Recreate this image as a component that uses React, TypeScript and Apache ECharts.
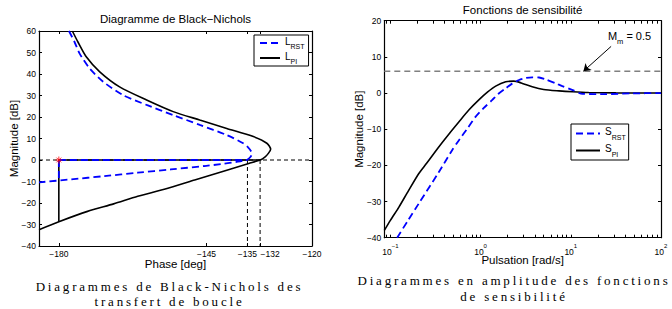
import React, { useEffect, useRef } from 'react';
import * as echarts from 'echarts';

const SANS = '"Liberation Sans", Arial, Helvetica, sans-serif';
const SERIF = '"Liberation Serif", serif';

// ---------- Left chart: Black-Nichols ----------
const phaseMin = -184.7;
const phaseMax = -120;
const nicholsGainMin = -40;
const nicholsGainMax = 60;
const phaseTickValues = [-180, -145, -135.3, -132.3, -120];

const lRstPhase = [-177.6, -176.3, -175.1, -172.7, -169.5, -164.8, -159.2, -152.9, -146.6, -140.2, -136.3, -135.1, -134.4, -134.3, -134.6, -135.3, -137.6, -141.5, -145.5, -153.5, -161.3, -169.2, -177.1, -184.7];
const lRstGain = [60, 55, 49.6, 42.6, 36.4, 30.2, 25.6, 20.9, 16.3, 11.6, 7.8, 5.8, 3.9, 2.6, 1.4, 0.2, -0.8, -1.9, -2.8, -4.4, -5.9, -7.5, -9.0, -10.4];

const lPiPhase = [-176.8, -175.5, -173.5, -170.3, -165.6, -159.2, -152.9, -146.6, -140.2, -133.9, -130.7, -129.8, -130.3, -131.1, -132.3, -135, -140, -147.8, -155, -161.3, -167, -173.2, -180, -184.7];
const lPiGain = [60, 55, 48, 41, 34, 27.9, 22.5, 18.6, 14.7, 10.9, 7.8, 5, 3.2, 1.5, 0, -1.6, -4.6, -9.3, -13.6, -16.9, -20.4, -23.9, -28.7, -32.4];

const criticalPhase = -180;
const pmRstPhase = -135.3;
const pmPiPhase = -132.3;
const gmRstGain = -9.6;
const gmPiGain = -28.7;

// ---------- Right chart: sensitivity functions ----------
const wMin = 0.0857;
const wMax = 100;
const sensMin = -40;
const sensMax = 20;
const wLabelTicks = [0.1, 1, 10, 100];
const wTickValues = [0.09, 0.1, 0.2, 0.3, 0.4, 0.5, 0.6, 0.7, 0.8, 0.9, 1, 2, 3, 4, 5, 6, 7, 8, 9, 10, 20, 30, 40, 50, 60, 70, 80, 90, 100];

const wPi = [0.0857, 0.1, 0.124, 0.158, 0.206, 0.251, 0.344, 0.447, 0.574, 0.741, 0.957, 1.2, 1.47, 1.9, 2.34, 2.82, 3.74, 5.0, 7.4, 10.5, 15.8, 31.6, 100];
const sPi = [-38.0, -35.2, -31.6, -27.1, -22.3, -19.5, -14.9, -11.3, -8.0, -4.7, -1.9, 0.3, 1.9, 3.1, 3.3, 2.8, 1.75, 1.0, 0.6, 0.35, 0.15, 0.05, 0];

const wRst = [0.119, 0.158, 0.206, 0.344, 0.484, 0.574, 0.724, 0.879, 1.08, 1.35, 1.58, 1.9, 2.24, 2.67, 3.16, 3.74, 4.45, 5.25, 6.8, 8.07, 10.5, 13.5, 24.5, 47.9, 100];
const sRst = [-40, -35.1, -30.6, -21.9, -15.8, -13.1, -9.6, -6.6, -4.2, -1.9, -0.2, 1.3, 2.6, 3.6, 4.15, 4.35, 4.3, 3.8, 2.7, 1.9, 0.8, -0.25, -0.28, -0.1, 0];

const mmValue = 0.5;
const mmDb = 20 * Math.log10(1 / mmValue);
const arrowStart = [28, 12.9];
const arrowEndW = 13.8;
const mmLabelAt = [25.8, 15.1];

const captionLeft = ['Diagrammes de Black-Nichols des', 'transfert de boucle'];
const captionRight = ['Diagrammes en amplitude des fonctions', 'de sensibilité'];

const zip = (xs: number[], ys: number[]) => xs.map((x, i) => [x, ys[i]]);
const fmtNum = (v: number) => String(Math.round(v)).replace('-', '\u2212');

const axisLineStyle = { color: '#000', width: 1.2 };
const tickBase = { show: true, inside: true, length: 3, lineStyle: { color: '#000', width: 1 } };
const labelBase = { color: '#000', fontFamily: SANS, fontSize: 8.5 };
const nameStyle = { color: '#000', fontFamily: SANS, fontSize: 11.5 };
const dashedRef = { color: '#000', width: 1, type: [4, 3] as number[] };
const blueDash = { color: '#0000ff', width: 1.8, type: [7, 4] as number[] };
const blackSolid = { color: '#000', width: 1.6 };

const legendRich = {
  m: { fontSize: 10, fontFamily: SANS, color: '#000', lineHeight: 14, verticalAlign: 'top' },
  s: { fontSize: 7, fontFamily: SANS, color: '#000', lineHeight: 7, verticalAlign: 'bottom' },
};
const subFormatter = (name: string) => {
  const [a, b] = name.split('_');
  return `{m|${a}}{s|${b}}`;
};

export default function App() {
  const ref = useRef<HTMLDivElement>(null);
  useEffect(() => {
    if (!ref.current) return;
    const chart = echarts.init(ref.current, null, { renderer: 'svg' });
    const lineSeries = (extra: any) => ({ type: 'line', symbol: 'none', silent: true, animation: false, ...extra });
    const captionText = (t: string, x: number, y: number) => ({
      type: 'text', x, y, silent: true,
      style: { text: t, fontFamily: SERIF, fontSize: 13, fill: '#000', align: 'center', verticalAlign: 'middle' },
    });
    chart.setOption({
      animation: false,
      backgroundColor: '#fff',
      title: [
        { text: 'Diagramme de Black\u2212Nichols', left: 175.5, top: 13, textAlign: 'center', padding: 0,
          textStyle: { fontFamily: SANS, fontSize: 11.5, fontWeight: 'normal', color: '#000' } },
        { text: 'Fonctions de sensibilité', left: 522.6, top: 4, textAlign: 'center', padding: 0,
          textStyle: { fontFamily: SANS, fontSize: 11.5, fontWeight: 'normal', color: '#000' } },
      ],
      legend: [
        { data: ['L_RST', 'L_PI'], orient: 'vertical', left: 254, top: 35, itemWidth: 20, itemHeight: 10, itemGap: 1,
          padding: [1, 4, 1, 5], borderColor: '#000', borderWidth: 1, backgroundColor: '#fff', selectedMode: false,
          itemStyle: { opacity: 0 },
          formatter: subFormatter, textStyle: { rich: legendRich } },
        { data: ['S_RST', 'S_PI'], orient: 'vertical', left: 571, top: 124, itemWidth: 24, itemHeight: 10, itemGap: 3,
          padding: [2.5, 3, 2.5, 4], borderColor: '#000', borderWidth: 1, backgroundColor: '#fff', selectedMode: false,
          itemStyle: { opacity: 0 },
          formatter: subFormatter, textStyle: { rich: legendRich } },
      ],
      grid: [
        { left: 39, top: 31, width: 273, height: 215, outerBoundsMode: 'none', containLabel: false },
        { left: 384.3, top: 20.7, width: 276.7, height: 217, outerBoundsMode: 'none', containLabel: false },
      ],
      xAxis: [
        { gridIndex: 0, type: 'value', min: phaseMin, max: phaseMax, position: 'bottom',
          axisLine: { show: true, onZero: false, lineStyle: axisLineStyle },
          axisTick: { ...tickBase, customValues: phaseTickValues },
          axisLabel: { ...labelBase, margin: 3, customValues: phaseTickValues,
            formatter: (v: number) => (Math.abs(v - pmPiPhase) < 0.01 ? `{sh|${fmtNum(v)}}` : fmtNum(v)),
            rich: { sh: { fontFamily: SANS, fontSize: 8.5, color: '#000', padding: [0, 0, 0, 20] } } },
          splitLine: { show: false },
          name: 'Phase [deg]', nameLocation: 'middle', nameGap: 12, nameMoveOverlap: false, nameTextStyle: nameStyle },
        { gridIndex: 0, type: 'value', min: phaseMin, max: phaseMax, position: 'top',
          axisLine: { show: true, onZero: false, lineStyle: axisLineStyle },
          axisTick: { ...tickBase, customValues: phaseTickValues },
          axisLabel: { show: false }, splitLine: { show: false } },
        { gridIndex: 1, type: 'log', logBase: 10, min: wMin, max: wMax, position: 'bottom',
          axisLine: { show: true, onZero: false, lineStyle: axisLineStyle },
          axisTick: { ...tickBase, customValues: wTickValues },
          minorTick: { show: false },
          axisLabel: { ...labelBase, margin: 5, customValues: wLabelTicks,
            formatter: (v: number) => `{b|10}{e|${fmtNum(Math.log10(v))}}`,
            rich: {
              b: { fontFamily: SANS, fontSize: 8.5, color: '#000', lineHeight: 14, verticalAlign: 'bottom' },
              e: { fontFamily: SANS, fontSize: 6, color: '#000', lineHeight: 6, verticalAlign: 'top' },
            } },
          splitLine: { show: false }, minorSplitLine: { show: false },
          name: 'Pulsation [rad/s]', nameLocation: 'middle', nameGap: 16, nameMoveOverlap: false, nameTextStyle: nameStyle },
        { gridIndex: 1, type: 'log', logBase: 10, min: wMin, max: wMax, position: 'top',
          axisLine: { show: true, onZero: false, lineStyle: axisLineStyle },
          axisTick: { ...tickBase, customValues: wTickValues },
          minorTick: { show: false },
          axisLabel: { show: false }, splitLine: { show: false } },
      ],
      yAxis: [
        { gridIndex: 0, type: 'value', min: nicholsGainMin, max: nicholsGainMax, interval: 10, position: 'left',
          axisLine: { show: true, onZero: false, lineStyle: axisLineStyle },
          axisTick: tickBase,
          axisLabel: { ...labelBase, margin: 3, formatter: (v: number) => fmtNum(v) },
          splitLine: { show: false },
          name: 'Magnitude [dB]', nameLocation: 'middle', nameGap: 19, nameMoveOverlap: false, nameTextStyle: nameStyle },
        { gridIndex: 0, type: 'value', min: nicholsGainMin, max: nicholsGainMax, interval: 10, position: 'right',
          axisLine: { show: true, onZero: false, lineStyle: axisLineStyle },
          axisTick: tickBase, axisLabel: { show: false }, splitLine: { show: false } },
        { gridIndex: 1, type: 'value', min: sensMin, max: sensMax, interval: 10, position: 'left',
          axisLine: { show: true, onZero: false, lineStyle: axisLineStyle },
          axisTick: tickBase,
          axisLabel: { ...labelBase, margin: 3, formatter: (v: number) => fmtNum(v) },
          splitLine: { show: false },
          name: 'Magnitude [dB]', nameLocation: 'middle', nameGap: 19, nameMoveOverlap: false, nameTextStyle: nameStyle },
        { gridIndex: 1, type: 'value', min: sensMin, max: sensMax, interval: 10, position: 'right',
          axisLine: { show: true, onZero: false, lineStyle: axisLineStyle },
          axisTick: tickBase, axisLabel: { show: false }, splitLine: { show: false } },
      ],
      series: [
        // ----- left -----
        lineSeries({ xAxisIndex: 0, yAxisIndex: 0, data: [[phaseMin, 0], [phaseMax, 0]], lineStyle: dashedRef, z: 1 }),
        lineSeries({ xAxisIndex: 0, yAxisIndex: 0, data: [[pmRstPhase, 0], [pmRstPhase, nicholsGainMin]], lineStyle: dashedRef, z: 1 }),
        lineSeries({ xAxisIndex: 0, yAxisIndex: 0, data: [[pmPiPhase, 0], [pmPiPhase, nicholsGainMin]], lineStyle: dashedRef, z: 1 }),
        lineSeries({ name: 'L_PI', xAxisIndex: 0, yAxisIndex: 0, data: zip(lPiPhase, lPiGain), smooth: 0.25,
          lineStyle: blackSolid, itemStyle: { color: '#000' }, z: 2 }),
        lineSeries({ xAxisIndex: 0, yAxisIndex: 0, data: [[criticalPhase, 0], [pmPiPhase, 0]], lineStyle: blackSolid, z: 2 }),
        lineSeries({ xAxisIndex: 0, yAxisIndex: 0, data: [[criticalPhase, 0], [criticalPhase, gmPiGain]], lineStyle: blackSolid, z: 2 }),
        lineSeries({ name: 'L_RST', xAxisIndex: 0, yAxisIndex: 0, data: zip(lRstPhase, lRstGain), smooth: 0.25,
          lineStyle: blueDash, itemStyle: { color: '#0000ff' }, z: 3 }),
        lineSeries({ xAxisIndex: 0, yAxisIndex: 0, data: [[criticalPhase, 0], [pmRstPhase, 0]], lineStyle: blueDash, z: 3 }),
        lineSeries({ xAxisIndex: 0, yAxisIndex: 0, data: [[criticalPhase, 0], [criticalPhase, gmRstGain]], lineStyle: blueDash, z: 3 }),
        { type: 'scatter', xAxisIndex: 0, yAxisIndex: 0, data: [[criticalPhase, 0]], silent: true, z: 4,
          symbol: 'path://M5,0L5,10M0,5L10,5M1.6,1.6L8.4,8.4M1.6,8.4L8.4,1.6', symbolSize: 7,
          itemStyle: { color: 'rgba(0,0,0,0)', borderColor: '#ff0000', borderWidth: 1 } },
        // ----- right -----
        lineSeries({ xAxisIndex: 2, yAxisIndex: 2, data: [[wMin, mmDb], [wMax, mmDb]],
          lineStyle: { color: '#808080', width: 1.5, type: [6, 4] }, z: 1,
          markLine: { silent: true, symbol: ['none', 'arrow'], symbolSize: 7, animation: false,
            lineStyle: { color: '#000', width: 1, type: 'solid' }, label: { show: false },
            data: [[{ coord: arrowStart }, { coord: [arrowEndW, mmDb] }]] },
          markPoint: { silent: true, symbol: 'circle', symbolSize: 0, animation: false,
            label: { show: true, position: 'right', distance: 0, formatter: '{a|M}{s|m}{a| = 0.5}',
              rich: {
                a: { fontFamily: SANS, fontSize: 11, color: '#000', lineHeight: 15, verticalAlign: 'top' },
                s: { fontFamily: SANS, fontSize: 7.5, color: '#000', lineHeight: 8, verticalAlign: 'bottom' },
              } },
            data: [{ coord: mmLabelAt }] } }),
        lineSeries({ name: 'S_PI', xAxisIndex: 2, yAxisIndex: 2, data: zip(wPi, sPi), smooth: 0.25,
          lineStyle: blackSolid, itemStyle: { color: '#000' }, z: 2 }),
        lineSeries({ name: 'S_RST', xAxisIndex: 2, yAxisIndex: 2, data: zip(wRst, sRst), smooth: 0.25,
          lineStyle: blueDash, itemStyle: { color: '#0000ff' }, z: 3 }),
      ],
      graphic: [
        captionText(captionLeft[0], 169.5, 286),
        captionText(captionLeft[1], 169.5, 301.5),
        captionText(captionRight[0], 514, 280),
        captionText(captionRight[1], 514, 296.5),
      ],
    });
    return () => chart.dispose();
  }, []);
  return (
    <>
      <style>{`text[style*="Liberation Serif"]{letter-spacing:2.8px}`}</style>
      <div ref={ref} style={{ position: 'fixed', left: 0, top: 0, width: 672, height: 309 }} />
    </>
  );
}
